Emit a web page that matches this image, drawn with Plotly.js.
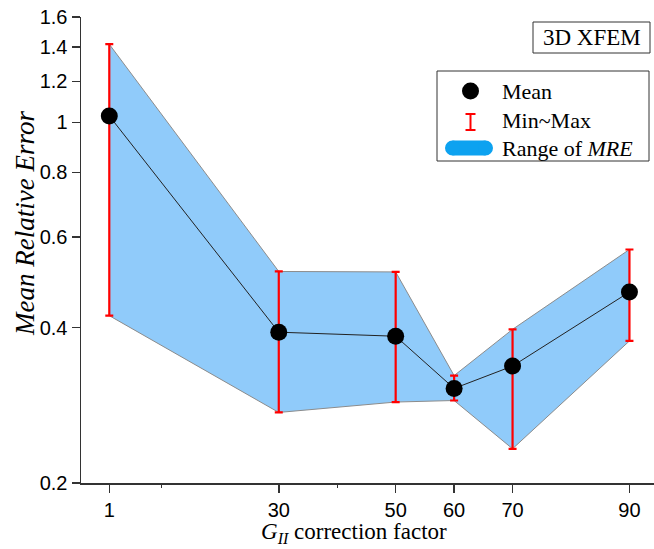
<!DOCTYPE html>
<html>
<head>
<meta charset="utf-8">
<script src="https://cdn.plot.ly/plotly-3.0.1.min.js"></script>
<style>html,body{margin:0;padding:0;background:#fff;}#chart{width:654px;height:549px;}</style>
</head>
<body>
<div id="chart"></div>
<script>
// ---- data ----
const xVals = [1, 30, 50, 60, 70, 90];
const xLabels = ["1", "30", "50", "60", "70", "90"];
const meanVals = [1.029, 0.392, 0.385, 0.305, 0.337, 0.469];
const maxVals = [1.417, 0.514, 0.513, 0.323, 0.397, 0.567];
const minVals = [0.422, 0.274, 0.287, 0.289, 0.233, 0.377];
const yTicks = [0.2, 0.4, 0.6, 0.8, 1, 1.2, 1.4, 1.6];
const yTickText = ["0.2", "0.4", "0.6", "0.8", "1", "1.2", "1.4", "1.6"];

// ---- layout helpers ----
const W = 654, H = 549;
const m = {l: 81, r: 0, t: 17, b: 66};
const pw = W - m.l - m.r, ph = H - m.t - m.b;
const fx = px => (px - m.l) / pw;
const fy = py => (H - m.b - py) / ph;
const serif = "Liberation Serif, Times New Roman, serif";
const sans = "Liberation Sans, Arial, sans-serif";

const bandX = xVals.concat(xVals.slice().reverse());
const bandY = maxVals.concat(minVals.slice().reverse());

const traces = [
  {
    x: bandX, y: bandY, type: "scatter", mode: "lines", fill: "toself",
    fillcolor: "rgb(144,203,250)", line: {color: "rgb(140,140,140)", width: 1},
    hoverinfo: "skip", showlegend: false
  },
  {
    x: xVals, y: meanVals, type: "scatter", mode: "lines+markers",
    line: {color: "#222", width: 1},
    marker: {color: "#000", size: 17},
    error_y: {
      type: "data", symmetric: false,
      array: maxVals.map((v, i) => v - meanVals[i]),
      arrayminus: meanVals.map((v, i) => v - minVals[i]),
      color: "rgb(255,0,0)", thickness: 2.2, width: 4
    },
    showlegend: false
  }
];

const shapes = [
  // legend box
  {type: "rect", xref: "paper", yref: "paper", x0: fx(437), x1: fx(649), y0: fy(71), y1: fy(161),
   line: {color: "#333", width: 1}, fillcolor: "rgba(255,255,255,1)"},
  // Mean symbol
  {type: "circle", xref: "paper", yref: "paper", x0: fx(462), x1: fx(479), y0: fy(82.5), y1: fy(99.5),
   line: {width: 0}, fillcolor: "#000"},
  // Min~Max symbol
  {type: "line", xref: "paper", yref: "paper", x0: fx(470.5), x1: fx(470.5), y0: fy(114), y1: fy(130),
   line: {color: "rgb(255,0,0)", width: 2}},
  {type: "line", xref: "paper", yref: "paper", x0: fx(465.5), x1: fx(475.5), y0: fy(114), y1: fy(114),
   line: {color: "rgb(255,0,0)", width: 2}},
  {type: "line", xref: "paper", yref: "paper", x0: fx(465.5), x1: fx(475.5), y0: fy(130), y1: fy(130),
   line: {color: "rgb(255,0,0)", width: 2}},
  // Range of MRE pill
  {type: "rect", xref: "paper", yref: "paper", x0: fx(452.5), x1: fx(485.5), y0: fy(140.5), y1: fy(155.5),
   line: {width: 0}, fillcolor: "rgb(13,162,240)"},
  {type: "circle", xref: "paper", yref: "paper", x0: fx(445), x1: fx(460), y0: fy(140.5), y1: fy(155.5),
   line: {width: 0}, fillcolor: "rgb(13,162,240)"},
  {type: "circle", xref: "paper", yref: "paper", x0: fx(478), x1: fx(493), y0: fy(140.5), y1: fy(155.5),
   line: {width: 0}, fillcolor: "rgb(13,162,240)"},
  // 3D XFEM box
  {type: "rect", xref: "paper", yref: "paper", x0: fx(533), x1: fx(650), y0: fy(22), y1: fy(53),
   line: {color: "#333", width: 1}, fillcolor: "rgba(0,0,0,0)"}
];

const ann = (text, px, py, opts) => Object.assign({
  text: text, xref: "paper", yref: "paper", x: fx(px), y: fy(py),
  showarrow: false, xanchor: "left", yanchor: "middle",
  font: {family: serif, size: 22, color: "#000"}
}, opts || {});

const annotations = [
  ann("Mean", 500, 91),
  ann("Min~Max", 500, 120),
  ann("Range of <i>MRE</i>", 500, 148),
  ann("3D XFEM", 591.5, 37.5, {xanchor: "center", font: {family: serif, size: 23, color: "#000"}}),
  ann("<i>Mean Relative Error</i>", 25, 224, {xanchor: "center", textangle: -90, font: {family: serif, size: 27, color: "#000"}}),
  ann("<i>G</i><sub><i>II</i></sub> correction factor", 354, 533, {xanchor: "center", font: {family: serif, size: 23, color: "#000"}})
];

const layout = {
  width: W, height: H,
  margin: m,
  paper_bgcolor: "#fff", plot_bgcolor: "#fff",
  showlegend: false,
  xaxis: {
    range: [-3.84, 94.2],
    tickmode: "array", tickvals: xVals, ticktext: xLabels,
    ticks: "outside", ticklen: 8, tickwidth: 1.5, tickcolor: "#333",
    showline: true, linecolor: "#333", linewidth: 1.5,
    showgrid: false, zeroline: false,
    tickfont: {family: sans, size: 20, color: "#000"},
    minor: {tickmode: "array", tickvals: [10, 40], ticks: "outside", ticklen: 3, tickwidth: 1.2, tickcolor: "#333", showgrid: false}
  },
  yaxis: {
    type: "log",
    range: [Math.log10(0.2), Math.log10(1.6)],
    tickmode: "array", tickvals: yTicks, ticktext: yTickText,
    ticks: "outside", ticklen: 8, tickwidth: 1.5, tickcolor: "#333",
    showline: true, linecolor: "#333", linewidth: 1.5,
    showgrid: false, zeroline: false,
    tickfont: {family: sans, size: 20, color: "#000"}
  },
  shapes: shapes,
  annotations: annotations
};

Plotly.newPlot("chart", traces, layout, {displayModeBar: false, staticPlot: true});
</script>
</body>
</html>
